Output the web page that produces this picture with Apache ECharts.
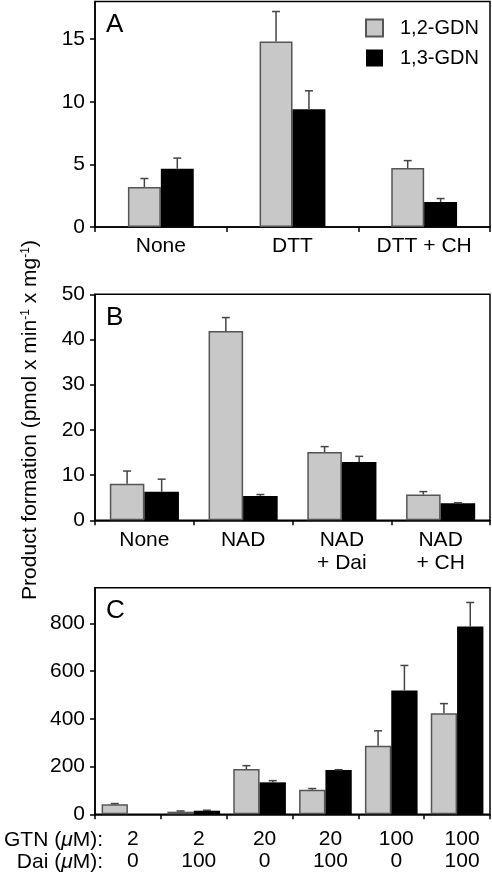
<!DOCTYPE html>
<html>
<head>
<meta charset="utf-8">
<script src="https://cdn.jsdelivr.net/npm/echarts@6/dist/echarts.min.js"></script>
<style>
html,body{margin:0;padding:0;background:#fff;}
#chart{width:492px;height:874px;}
</style>
</head>
<body>
<div id="chart"></div>
<script>
// ---------- DATA ----------
const seriesNames = ['1,2-GDN', '1,3-GDN'];

// Panel A
const catsA = ['None', 'DTT', 'DTT + CH'];
const a12 = [3.2, 14.8, 4.7];
const a12err = [0.67, 2.4, 0.6];
const a13 = [4.65, 9.4, 2.0];
const a13err = [0.85, 1.47, 0.27];
const ticksA = [0, 5, 10, 15];

// Panel B
const catsB = ['None', 'NAD', 'NAD\n+ Dai', 'NAD\n+ CH'];
const b12 = [8.1, 41.9, 15.1, 5.7];
const b12err = [2.8, 2.95, 1.2, 0.65];
const b13 = [6.3, 5.4, 12.9, 3.75];
const b13err = [2.8, 0.3, 1.25, 0.15];
const ticksB = [0, 10, 20, 30, 40, 50];

// Panel C
const gtnC = ['2', '2', '20', '20', '100', '100'];
const daiC = ['0', '100', '0', '100', '0', '100'];
const c12 = [42, 11, 190, 103, 287, 424];
const c12err = [3, 3, 14, 5, 63, 40];
const c13 = [0, 15, 134, 186, 519, 787];
const c13err = [0, 2, 7, 1, 105, 101];
const ticksC = [0, 200, 400, 600, 800];

// ---------- STYLE / LAYOUT ----------
const FONT = "'Liberation Sans', Arial, Helvetica, sans-serif";
const GREY = '#c8c8c8';
const GREY_BORDER = '#555';
const ERR = '#444';

const panels = [
  {cats: catsA, s12: a12, e12: a12err, s13: a13, e13: a13err, ticks: ticksA, max: 18, top: 1.5, height: 225.5, bw: 0.25, lh: 22, margin: 8, pad: [0,0,0,0]},
  {cats: catsB, s12: b12, e12: b12err, s13: b13, e13: b13err, ticks: ticksB, max: 50, top: 294.3, height: 226, bw: 0.35, lh: 23, margin: 8, pad: [0,0,0,0]},
  {cats: gtnC.map((g, i) => g + '\n' + daiC[i]), s12: c12, e12: c12err, s13: c13, e13: c13err, ticks: ticksC, max: 950, top: 587.7, height: 226.6, bw: 0.40, lh: 22, margin: 14, pad: [0,0,0,10]}
];

const grids = [], xAxes = [], yAxes = [], series = [];

function errSeries(idx, values, errs, side, pct) {
  return {
    type: 'custom', xAxisIndex: idx, yAxisIndex: idx, z: 5, silent: true,
    data: values.map((v, i) => [i, v, errs[i]]),
    encode: {x: 0, y: 1},
    renderItem: function (params, api) {
      const i = api.value(0), v = api.value(1), e = api.value(2);
      if (!e) return null;
      const band = api.size([1, 0])[0];
      const w = band * pct;
      const cx = api.coord([i, 0])[0] + side * w / 2;
      const y0 = api.coord([i, v])[1];
      const y1 = api.coord([i, v + e])[1];
      const st = {stroke: ERR, lineWidth: 1.5};
      return {type: 'group', children: [
        {type: 'line', shape: {x1: cx, y1: y0, x2: cx, y2: y1}, style: st},
        {type: 'line', shape: {x1: cx - 4, y1: y1, x2: cx + 4, y2: y1}, style: st}
      ]};
    }
  };
}

panels.forEach((p, idx) => {
  grids.push({left: 95, width: 395, top: p.top, height: p.height, show: true, borderColor: '#000', borderWidth: 1.5, backgroundColor: 'transparent'});
  xAxes.push({
    type: 'category', gridIndex: idx, data: p.cats,
    axisLine: {lineStyle: {color: '#000', width: 1.5}},
    axisTick: {show: true, length: 5, lineStyle: {color: '#000', width: 1.5}},
    axisLabel: {color: '#000', fontSize: 21, fontFamily: FONT, lineHeight: p.lh, margin: p.margin, padding: p.pad, interval: 0}
  });
  yAxes.push({
    type: 'value', gridIndex: idx, min: 0, max: p.max,
    axisLine: {show: true, lineStyle: {color: '#000', width: 1.5}},
    axisTick: {show: true, length: 5, lineStyle: {color: '#000', width: 1.5}, customValues: p.ticks},
    axisLabel: {color: '#000', fontSize: 21, fontFamily: FONT, margin: 10, customValues: p.ticks},
    splitLine: {show: false}
  });
  const bwPct = (p.bw * 100) + '%';
  series.push({
    name: seriesNames[0], type: 'bar', xAxisIndex: idx, yAxisIndex: idx, data: p.s12,
    barWidth: bwPct, barGap: '0%',
    itemStyle: {color: GREY, borderColor: GREY_BORDER, borderWidth: 1.5}
  });
  series.push({
    name: seriesNames[1], type: 'bar', xAxisIndex: idx, yAxisIndex: idx, data: p.s13,
    barWidth: bwPct, barGap: '0%',
    itemStyle: {color: '#000', borderColor: '#000', borderWidth: 0}
  });
  series.push(errSeries(idx, p.s12, p.e12, -1, p.bw));
  series.push(errSeries(idx, p.s13, p.e13, 1, p.bw));
});

const option = {
  animation: false,
  backgroundColor: '#fff',
  grid: grids,
  xAxis: xAxes,
  yAxis: yAxes,
  legend: {
    data: seriesNames, orient: 'vertical', left: 360, top: 13,
    itemWidth: 17, itemHeight: 17, itemGap: 10, icon: 'rect',
    textStyle: {fontSize: 20, fontFamily: FONT, color: '#000', lineHeight: 17, padding: [0, 0, 0, 12]},
    selectedMode: false
  },
  graphic: [
    {type: 'text', left: 106, top: 12, style: {text: 'A', fontSize: 26, fontFamily: FONT, fill: '#000'}},
    {type: 'text', left: 106, top: 305, style: {text: 'B', fontSize: 26, fontFamily: FONT, fill: '#000'}},
    {type: 'text', left: 106, top: 598, style: {text: 'C', fontSize: 26, fontFamily: FONT, fill: '#000'}},
    {type: 'text', x: 30, y: 420, rotation: Math.PI / 2,
      style: {text: 'Product formation (pmol x min{sup|-1} x mg{sup|-1})', fontSize: 21, fontFamily: FONT, fill: '#000', align: 'center', verticalAlign: 'middle',
        rich: {sup: {fontSize: 12, fontFamily: FONT, verticalAlign: 'top', padding: [0, 0, 8, 0]}}}},
    {type: 'text', x: 103, y: 840,
      style: {text: 'GTN ({it|μ}M):', fontSize: 21, fontFamily: FONT, fill: '#000', align: 'right', verticalAlign: 'middle',
        rich: {it: {fontSize: 21, fontFamily: FONT, fontStyle: 'italic'}}}},
    {type: 'text', x: 103, y: 862,
      style: {text: 'Dai ({it|μ}M):', fontSize: 21, fontFamily: FONT, fill: '#000', align: 'right', verticalAlign: 'middle',
        rich: {it: {fontSize: 21, fontFamily: FONT, fontStyle: 'italic'}}}}
  ],
  series: series
};

const chart = echarts.init(document.getElementById('chart'), null, {renderer: 'canvas'});
chart.setOption(option);
</script>
</body>
</html>
